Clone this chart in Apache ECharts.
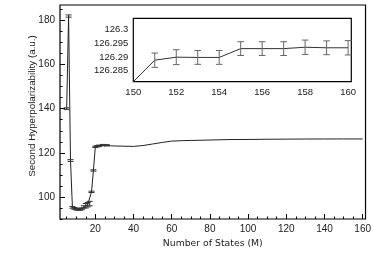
<!DOCTYPE html>
<html>
<head>
<meta charset="utf-8">
<script src="https://cdn.jsdelivr.net/npm/echarts@6/dist/echarts.min.js"></script>
<style>html,body{margin:0;padding:0;background:#fff}#c{width:374px;height:264px}</style>
</head>
<body>
<div id="c"></div>
<script>
// ---- main chart data ----
const mainX = [5, 6, 7, 8, 9, 10, 11, 12, 13, 14, 15, 16, 17, 18, 19, 20, 21, 22, 24, 26, 28, 30, 35, 40, 45, 50, 55, 60, 65, 70, 80, 90, 100, 110, 120, 130, 140, 150, 160];
const mainY = [140, 182, 116.5, 95.3, 94.8, 94.5, 94.4, 94.4, 94.6, 95.5, 96.0, 96.5, 97.0, 102.3, 112, 122.7, 123.0, 123.2, 123.5, 123.4, 123.2, 123.1, 123.0, 122.9, 123.3, 124.0, 124.7, 125.3, 125.5, 125.6, 125.8, 126.0, 126.05, 126.15, 126.2, 126.25, 126.27, 126.29, 126.29];
const mainErr = [0.4, 0.5, 0.4, 0.4, 0.4, 0.4, 0.4, 0.4, 0.4, 0.5, 1.0, 1.0, 1.0, 0.3, 0.3, 0.3, 0.3, 0.3, 0.3, 0.3, 0, 0, 0, 0, 0, 0, 0, 0, 0, 0, 0, 0, 0, 0, 0, 0, 0, 0, 0];
const mainXTicks = [20, 40, 60, 80, 100, 120, 140, 160];
const mainYTicks = [100, 120, 140, 160, 180];

// ---- inset data ----
const insetX = [150, 151, 152, 153, 154, 155, 156, 157, 158, 159, 160];
const insetY = [126.281, 126.2888, 126.2899, 126.2898, 126.2898, 126.2930, 126.2930, 126.2930, 126.2935, 126.2933, 126.2933];
const insetErr = [0, 0.0026, 0.0027, 0.0025, 0.0025, 0.0025, 0.0025, 0.0025, 0.0026, 0.0025, 0.0026];
const insetXTicks = [150, 152, 154, 156, 158, 160];
const insetYTicks = [126.285, 126.29, 126.295, 126.3];

// minor tick positions
const mainXMinor = [], mainYMinor = [], insetXMinor = [], insetYMinor = [];
for (let v = 5; v <= 160; v += 5) if (v % 20) mainXMinor.push(v);
for (let v = 90; v <= 185; v += 5) if (v % 20) mainYMinor.push(v);
for (let i = 0; i <= 20; i++) { if (i % 4) insetXMinor.push(150 + i * 0.5); }
for (let i = 282; i <= 303; i++) { if (i % 5) insetYMinor.push(+(126 + i / 1000).toFixed(3)); }

const LBL = { fontFamily: 'Liberation Sans', fontSize: 10, color: '#222' };
const LBL2 = { fontFamily: 'Liberation Sans', fontSize: 9.5, color: '#222' };

function errRender(color, hw) {
  return function (params, api) {
    const e = api.value(2);
    if (!e) return null;
    const x = api.value(0), y = api.value(1);
    const lo = api.coord([x, y - e]), hi = api.coord([x, y + e]);
    const st = { stroke: color, lineWidth: 1 };
    return { type: 'group', children: [
      { type: 'line', shape: { x1: lo[0], y1: lo[1], x2: hi[0], y2: hi[1] }, style: st },
      { type: 'line', shape: { x1: lo[0] - hw, y1: lo[1], x2: lo[0] + hw, y2: lo[1] }, style: st },
      { type: 'line', shape: { x1: hi[0] - hw, y1: hi[1], x2: hi[0] + hw, y2: hi[1] }, style: st }
    ]};
  };
}

function mkAxis(grid, min, max, major, minor, pos, label, fmt) {
  const base = {
    type: 'value', gridIndex: grid, min: min, max: max, position: pos,
    axisLine: { show: false }, splitLine: { show: false }
  };
  return [
    Object.assign({}, base, {
      axisTick: { show: true, inside: true, length: 5, customValues: major, lineStyle: { color: '#000', width: 1 } },
      axisLabel: Object.assign({ show: true, margin: 5, customValues: major, formatter: fmt || (v => String(v)) }, label)
    }),
    Object.assign({}, base, {
      axisTick: { show: true, inside: true, length: 2.5, customValues: minor, lineStyle: { color: '#000', width: 1 } },
      axisLabel: { show: false }
    })
  ];
}

const xAxes = [
  ...mkAxis(0, 1.5, 161.5, mainXTicks, mainXMinor, 'bottom', LBL),
  ...mkAxis(1, 150, 160.15, insetXTicks, insetXMinor, 'bottom', LBL2)
];
xAxes[0].name = 'Number of States (M)';
xAxes[0].nameLocation = 'middle';
xAxes[0].nameGap = 17;
xAxes[0].nameTextStyle = { fontFamily: 'DejaVu Sans', fontSize: 9.3, color: '#222' };
xAxes[2].axisLabel.margin = 6;

const yAxes = [
  ...mkAxis(0, 90, 187, mainYTicks, mainYMinor, 'left', LBL),
  ...mkAxis(1, 126.281, 126.304, insetYTicks, insetYMinor, 'left', LBL2)
];
yAxes[2].axisTick.length = 4;
yAxes[3].axisTick.length = 2;

const chart = echarts.init(document.getElementById('c'), null, { renderer: 'canvas' });
chart.setOption({
  animation: false,
  backgroundColor: '#fff',
  grid: [
    { left: 60, top: 5, width: 308, height: 214, show: true, borderColor: '#000', borderWidth: 1.2, backgroundColor: 'transparent', containLabel: false },
    { left: 133.3, top: 18.3, width: 218, height: 63.4, show: true, borderColor: '#000', borderWidth: 1.2, backgroundColor: '#fff', z: 5, containLabel: false }
  ],
  xAxis: xAxes,
  yAxis: yAxes,
  graphic: [{
    type: 'text', x: 32, y: 106, rotation: Math.PI / 2,
    style: { text: 'Second Hyperpolarizability (a.u.)', textAlign: 'center', textVerticalAlign: 'middle',
      fontFamily: 'Liberation Sans', fontSize: 9.8, fill: '#222' }
  }],
  series: [
    { type: 'line', xAxisIndex: 0, yAxisIndex: 0, data: mainX.map((x, i) => [x, mainY[i]]),
      symbol: 'none', lineStyle: { color: '#222', width: 1 }, z: 2 },
    { type: 'custom', xAxisIndex: 0, yAxisIndex: 0, data: mainX.map((x, i) => [x, mainY[i], mainErr[i]]),
      renderItem: errRender('#333', 3), z: 3 },
    { type: 'line', xAxisIndex: 2, yAxisIndex: 2, data: insetX.map((x, i) => [x, insetY[i]]),
      symbol: 'none', lineStyle: { color: '#333', width: 1 }, clip: true, z: 6 },
    { type: 'custom', xAxisIndex: 2, yAxisIndex: 2, data: insetX.map((x, i) => [x, insetY[i], insetErr[i]]),
      renderItem: errRender('#666', 3.3), z: 7 }
  ]
});
</script>
</body>
</html>
